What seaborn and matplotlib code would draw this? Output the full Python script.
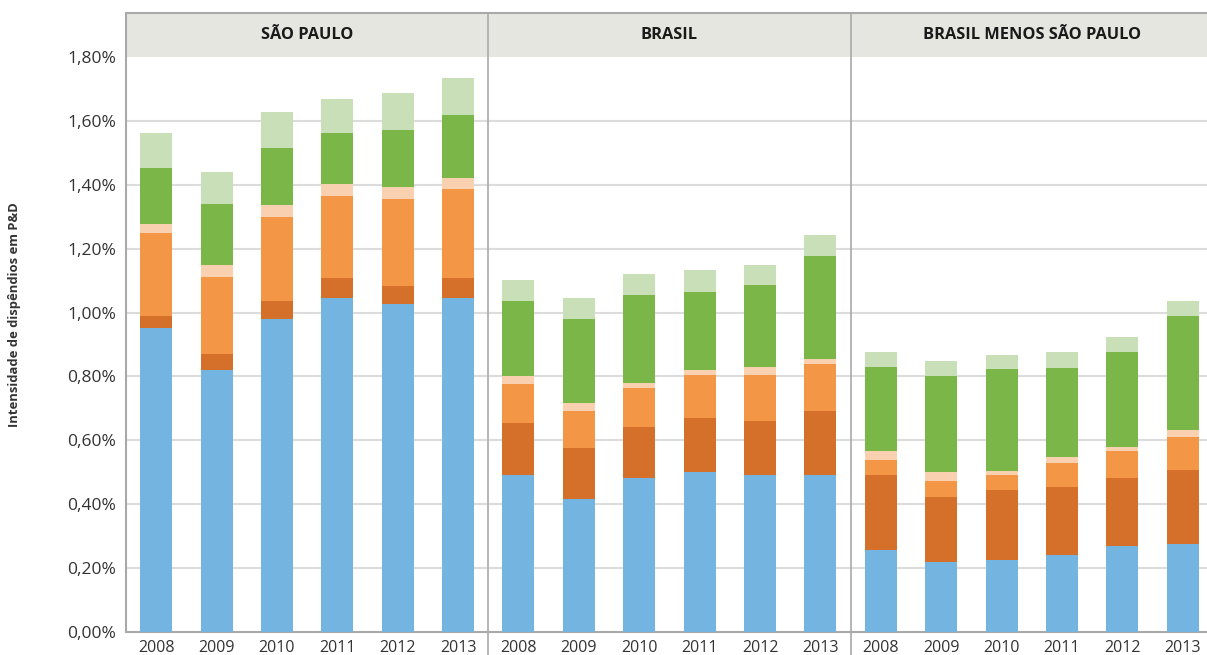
import matplotlib
matplotlib.use("Agg")
import matplotlib.pyplot as plt
import seaborn as sns
import numpy as np
import pandas as pd
from matplotlib.lines import Line2D
from matplotlib.patches import Rectangle

years = ["2008", "2009", "2010", "2011", "2012", "2013"]
panels = ["SÃO PAULO", "BRASIL", "BRASIL MENOS SÃO PAULO"]
segments = ["s1", "s2", "s3", "s4", "s5", "s6"]
seg_colors = ["#74b4e0", "#d4702a", "#f39645", "#f9d0b0", "#7ab648", "#c8dfb8"]

# São Paulo
sp_s1 = [0.953, 0.821, 0.979, 1.045, 1.028, 1.045]
sp_s2 = [0.037, 0.049, 0.058, 0.064, 0.055, 0.064]
sp_s3 = [0.260, 0.242, 0.263, 0.256, 0.273, 0.277]
sp_s4 = [0.028, 0.037, 0.037, 0.036, 0.037, 0.036]
sp_s5 = [0.173, 0.190, 0.179, 0.161, 0.179, 0.198]
sp_s6 = [0.112, 0.102, 0.112, 0.105, 0.114, 0.114]
# Brasil
br_s1 = [0.492, 0.415, 0.483, 0.502, 0.493, 0.493]
br_s2 = [0.161, 0.161, 0.158, 0.168, 0.169, 0.198]
br_s3 = [0.123, 0.115, 0.122, 0.134, 0.142, 0.148]
br_s4 = [0.024, 0.026, 0.018, 0.016, 0.027, 0.017]
br_s5 = [0.237, 0.262, 0.274, 0.245, 0.255, 0.321]
br_s6 = [0.065, 0.066, 0.067, 0.067, 0.063, 0.066]
# Brasil menos São Paulo
bm_s1 = [0.258, 0.219, 0.226, 0.240, 0.268, 0.274]
bm_s2 = [0.232, 0.203, 0.217, 0.213, 0.214, 0.234]
bm_s3 = [0.047, 0.052, 0.047, 0.075, 0.086, 0.103]
bm_s4 = [0.029, 0.026, 0.015, 0.019, 0.012, 0.021]
bm_s5 = [0.264, 0.302, 0.318, 0.281, 0.297, 0.358]
bm_s6 = [0.045, 0.047, 0.045, 0.049, 0.047, 0.047]

panel_data = [
    [sp_s1, sp_s2, sp_s3, sp_s4, sp_s5, sp_s6],
    [br_s1, br_s2, br_s3, br_s4, br_s5, br_s6],
    [bm_s1, bm_s2, bm_s3, bm_s4, bm_s5, bm_s6],
]
yticks = [0.0, 0.2, 0.4, 0.6, 0.8, 1.0, 1.2, 1.4, 1.6, 1.8]

sns.set_theme(style="white")
plt.rcParams['font.family'] = ['Open Sans', 'DejaVu Sans']

W, H = 1207, 655
fig = plt.figure(figsize=(W / 100, H / 100), dpi=100)

left_px = 126
panel_w = 362.3
top_px, bot_px = 57, 632
head_px = 13
gridc = "#dcdcdc"
linec = "#a9a9a9"

axes = []
for i, (name, series) in enumerate(zip(panels, panel_data)):
    x0 = (left_px + i * panel_w) / W
    ax = fig.add_axes([x0, (H - bot_px) / H, panel_w / W, (bot_px - top_px) / H])
    axes.append(ax)
    cum = np.cumsum(np.array(series), axis=0)
    df = pd.DataFrame({"year": years})
    for k in range(len(segments) - 1, -1, -1):
        df["v"] = cum[k]
        sns.barplot(data=df, x="year", y="v", color=seg_colors[k], saturation=1,
                    width=0.53, ax=ax, zorder=3, linewidth=0)
    ax.set_ylim(0, 1.8)
    ax.set_xlim(-0.5, 5.5)
    ax.set_yticks(yticks)
    for t in yticks[1:-1]:
        ax.axhline(t, color=gridc, lw=1.5, zorder=1)
    ax.set_xlabel("")
    ax.set_ylabel("")
    for s in ["top", "right", "left"]:
        ax.spines[s].set_visible(False)
    ax.spines["bottom"].set_color(linec)
    ax.spines["bottom"].set_linewidth(1.5)
    ax.tick_params(axis="x", length=0, pad=6, labelsize=11.5, labelcolor="#333333")
    if i == 0:
        ax.set_yticklabels([f"{v:.2f}%".replace(".", ",") for v in yticks])
        ax.tick_params(axis="y", length=0, pad=7, labelsize=12.5, labelcolor="#333333")
        ax.set_ylabel("Intensidade de dispêndios em P&D", fontsize=9.4, fontweight="bold",
                      color="#333333")
        ax.yaxis.set_label_coords((21 - left_px) / panel_w, (bot_px - 315) / (bot_px - top_px))
    else:
        ax.tick_params(axis="y", length=0, labelleft=False)
    # header band
    hh = (top_px - head_px) / (bot_px - top_px)
    ax.add_patch(Rectangle((0, 1.0), 1, hh, transform=ax.transAxes, facecolor="#e6e6e0",
                           edgecolor="none", clip_on=False, zorder=2))
    ax.text(0.5, 1.0 + hh / 2, name, transform=ax.transAxes, ha="center", va="center",
            fontsize=11.8, fontweight="bold", color="#1a1a1a")

def fx(px):
    return px / W
def fy(py):
    return (H - py) / H

fig.add_artist(Line2D([fx(left_px), 1.0], [fy(head_px), fy(head_px)], color=linec, lw=1.5))
fig.add_artist(Line2D([fx(left_px), fx(left_px)], [fy(head_px), fy(bot_px)], color=linec, lw=1.5))
for i in (1, 2):
    xp = left_px + i * panel_w
    fig.add_artist(Line2D([fx(xp), fx(xp)], [fy(head_px), 0], color=linec, lw=1.2))

fig.savefig("out.png", dpi=100)
